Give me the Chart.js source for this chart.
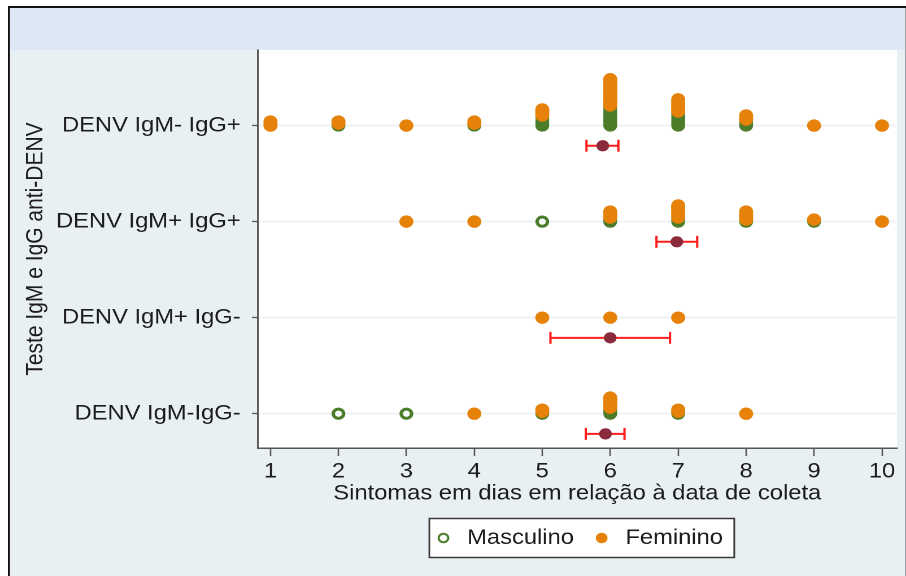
<!DOCTYPE html>
<html>
<head>
<meta charset="utf-8">
<script src="https://cdn.jsdelivr.net/npm/chart.js@4.4.0/dist/chart.umd.min.js"></script>
<style>
  html, body { margin: 0; padding: 0; background: #ffffff; overflow: hidden; }
  /* the figure is laid out 802px wide and widened to the 906px frame */
  #wrap { position: absolute; left: 0; top: 0; width: 802px; height: 576px;
          transform: scaleX(1.1297); transform-origin: 0 0; }
</style>
</head>
<body>
<div id="wrap"><canvas id="c"></canvas></div>
<script>
// ---- data -------------------------------------------------------------
const categories = ['DENV IgM- IgG+', 'DENV IgM+ IgG+', 'DENV IgM+ IgG-', 'DENV IgM-IgG-'];
const days = [1, 2, 3, 4, 5, 6, 7, 8, 9, 10];

// number of patients per category (rows) and day (columns)
const masculinoCounts = [
  [0, 1, 0, 1, 5, 10, 7, 3, 0, 0],
  [0, 0, 0, 0, 1, 2, 2, 1, 1, 0],
  [0, 0, 0, 0, 0, 0, 0, 0, 0, 0],
  [0, 1, 1, 0, 1, 3, 1, 0, 0, 0]
];
const femininoCounts = [
  [3, 2, 1, 2, 4, 14, 7, 3, 1, 1],
  [0, 0, 1, 1, 0, 4, 7, 5, 1, 1],
  [0, 0, 0, 0, 1, 1, 1, 0, 0, 0],
  [0, 0, 0, 1, 2, 6, 2, 1, 0, 0]
];

// mean day and confidence interval per category
const meanDays = [5.89, 6.98, 6.0, 5.93];
const ciLow    = [5.65, 6.68, 5.12, 5.64];
const ciHigh   = [6.12, 7.28, 6.88, 6.21];

const xTickValues = days;
const legendNames = ['Masculino', 'Feminino'];

// ---- styling ----------------------------------------------------------
const FONT = "'Liberation Sans', Arial, sans-serif";
const TEXT = '#1c1c1c';
const ORANGE = '#e6820a';
const GREEN = '#4c7d2a';
const MAROON = '#8a2b3b';
const RED = '#ff1c1c';
const STACK_STEP = 0.021;   // vertical shift between stacked markers (category units)
const MEAN_OFFSET = 0.21;   // mean/CI row sits just below its category

function stackedPoints(counts, startCounts) {
  const pts = [];
  counts.forEach((row, ci) => row.forEach((n, di) => {
    const start = startCounts ? startCounts[ci][di] : 0;
    for (let k = 0; k < n; k++) {
      pts.push({ x: days[di], y: ci - (start + k) * STACK_STEP });
    }
  }));
  return pts;
}

const datasets = [
  {
    label: 'Masculino', data: stackedPoints(masculinoCounts, null),
    pointStyle: 'circle', pointRadius: 4.6, borderWidth: 3,
    borderColor: GREEN, backgroundColor: 'rgba(0,0,0,0)', order: 4
  },
  {
    label: 'Feminino', data: stackedPoints(femininoCounts, masculinoCounts),
    pointStyle: 'circle', pointRadius: 6.2, borderWidth: 0,
    borderColor: ORANGE, backgroundColor: ORANGE, order: 3
  },
  ...categories.map((c, i) => ({
    label: 'IC ' + c, showLine: true, pointRadius: 0, borderWidth: 2,
    borderColor: RED, backgroundColor: RED, order: 2,
    data: [{ x: ciLow[i], y: i + MEAN_OFFSET }, { x: ciHigh[i], y: i + MEAN_OFFSET }]
  })),
  {
    label: 'IC limites', order: 1,
    data: categories.flatMap((c, i) => [
      { x: ciLow[i], y: i + MEAN_OFFSET }, { x: ciHigh[i], y: i + MEAN_OFFSET }
    ]),
    pointStyle: 'line', rotation: 90, pointRadius: 6, borderWidth: 2,
    borderColor: RED, backgroundColor: RED
  },
  {
    label: 'Média', order: 0,
    data: meanDays.map((m, i) => ({ x: m, y: i + MEAN_OFFSET })),
    pointStyle: 'circle', pointRadius: 5.6, borderWidth: 0,
    backgroundColor: MAROON, borderColor: MAROON
  }
];

// panel backgrounds, frame and the boxed legend
const framePlugin = {
  id: 'frame',
  beforeDraw(chart) {
    const { ctx, width, height, chartArea: a } = chart;
    ctx.save();
    ctx.fillStyle = '#ffffff';
    ctx.fillRect(0, 0, width, height);
    ctx.fillStyle = '#e9f0f3';
    ctx.fillRect(7, 6, width - 7, height - 6);
    ctx.fillStyle = '#dde8f4';
    ctx.fillRect(7, 6, width - 7, a.top - 6);
    ctx.fillStyle = '#ffffff';
    ctx.fillRect(a.left, a.top, a.right - a.left, a.bottom - a.top);
    // outer frame (top and left edges)
    ctx.fillStyle = '#111111';
    ctx.fillRect(7, 6, width - 7, 2);
    ctx.fillRect(7, 6, 1.8, height - 6);
    ctx.fillStyle = '#9aa3a8';
    ctx.fillRect(width - 1, 8, 1, height - 8);
    // legend box
    const hb = chart.legend && chart.legend.legendHitBoxes;
    if (hb && hb.length) {
      const first = hb[0], last = hb[hb.length - 1];
      const x0 = first.left - 2, x1 = last.left + last.width + 10;
      const y0 = first.top - 9, y1 = first.top + first.height + 9;
      ctx.fillStyle = '#ffffff';
      ctx.fillRect(x0, y0, x1 - x0, y1 - y0);
      ctx.strokeStyle = '#3a3a3a';
      ctx.lineWidth = 1.5;
      ctx.strokeRect(x0, y0, x1 - x0, y1 - y0);
    }
    ctx.restore();
  }
};

new Chart(document.getElementById('c'), {
  type: 'scatter',
  data: { datasets },
  options: {
    responsive: true,
    maintainAspectRatio: false,
    animation: false,
    devicePixelRatio: 2,
    layout: { padding: { top: 50, left: 9, right: 1, bottom: 17.5 } },
    scales: {
      x: {
        type: 'linear', min: 0.81, max: 10.22,
        afterBuildTicks(scale) { scale.ticks = xTickValues.map(v => ({ value: v })); },
        afterFit(scale) { scale.height = 65.5; },
        ticks: { color: TEXT, font: { family: FONT, size: 21 }, padding: 3, maxRotation: 0,
                 callback: v => String(v) },
        grid: { drawOnChartArea: false, tickLength: 8, tickColor: '#555', tickWidth: 1.3 },
        border: { display: true, color: '#555', width: 1.5 },
        title: { display: true, text: 'Sintomas em dias em relação à data de coleta',
                 color: TEXT, font: { family: FONT, size: 21 }, padding: { top: 0, bottom: 7 } }
      },
      y: {
        type: 'linear', reverse: true, min: -0.787, max: 3.357,
        afterBuildTicks(scale) { scale.ticks = categories.map((c, i) => ({ value: i })); },
        afterFit(scale) { scale.width = 219; },
        ticks: { color: TEXT, font: { family: FONT, size: 21 }, padding: 10,
                 callback: v => categories[v] },
        grid: { color: '#edf2f4', lineWidth: 2, tickLength: 5, tickColor: '#555', tickWidth: 1.3 },
        border: { display: true, color: '#555', width: 1.5 },
        title: { display: true, text: 'Teste IgM e IgG anti-DENV',
                 color: TEXT, font: { family: FONT, size: 21 }, padding: { top: 10, bottom: 0 } }
      }
    },
    plugins: {
      tooltip: { enabled: false },
      legend: {
        position: 'bottom', fullSize: false,
        labels: {
          usePointStyle: true, boxWidth: 21, boxHeight: 6, padding: 14,
          color: TEXT, font: { family: FONT, size: 21 },
          generateLabels(chart) {
            return Chart.defaults.plugins.legend.labels.generateLabels(chart)
              .filter(it => legendNames.includes(it.text))
              .sort((a, b) => legendNames.indexOf(a.text) - legendNames.indexOf(b.text))
              .map(it => ({ ...it, lineWidth: 2 }));
          }
        }
      }
    }
  },
  plugins: [framePlugin]
});
</script>
</body>
</html>
